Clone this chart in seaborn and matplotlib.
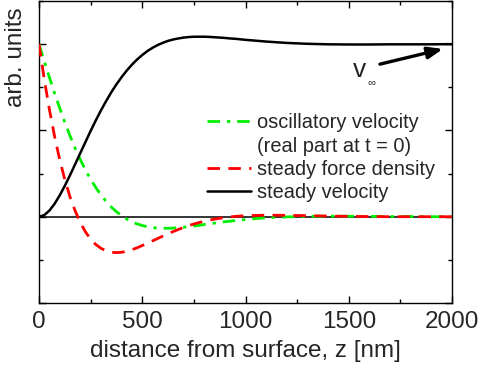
import matplotlib
matplotlib.use("Agg")
import matplotlib.pyplot as plt
import pandas as pd
import seaborn as sns
from matplotlib.ticker import MultipleLocator, NullFormatter

# distance from surface z [nm]
z_nm = [0, 25, 50, 75, 100, 125, 150, 175, 200, 225, 250, 275, 300, 325, 350, 375, 400,
        425, 450, 475, 500, 525, 550, 575, 600, 625, 650, 675, 700, 725, 750, 775, 800,
        825, 850, 875, 900, 925, 950, 975, 1000, 1100, 1200, 1300, 1400, 1500, 1600,
        1700, 1800, 1900, 2000]

steady_velocity = [0.000, 0.009, 0.035, 0.074, 0.123, 0.179, 0.240, 0.304, 0.369, 0.433,
                   0.497, 0.558, 0.616, 0.670, 0.721, 0.767, 0.809, 0.847, 0.881, 0.911,
                   0.937, 0.960, 0.979, 0.995, 1.008, 1.019, 1.027, 1.033, 1.038, 1.041,
                   1.043, 1.043, 1.043, 1.042, 1.040, 1.038, 1.036, 1.033, 1.031, 1.028,
                   1.025, 1.015, 1.007, 1.002, 0.999, 0.998, 0.998, 0.999, 0.999, 0.999,
                   1.000]

steady_force_density = [1.000, 0.801, 0.624, 0.468, 0.332, 0.215, 0.116, 0.034, -0.034,
                        -0.088, -0.130, -0.161, -0.183, -0.198, -0.206, -0.208, -0.206,
                        -0.200, -0.191, -0.180, -0.167, -0.154, -0.140, -0.126, -0.112,
                        -0.099, -0.086, -0.074, -0.062, -0.052, -0.042, -0.034, -0.026,
                        -0.020, -0.014, -0.009, -0.005, -0.001, 0.002, 0.004, 0.006,
                        0.009, 0.008, 0.006, 0.004, 0.002, 0.001, 0.000, 0.000, 0.000,
                        0.000]

oscillatory_velocity = [1.000, 0.904, 0.809, 0.717, 0.630, 0.547, 0.469, 0.397, 0.331,
                        0.271, 0.217, 0.169, 0.126, 0.089, 0.056, 0.029, 0.006, -0.014,
                        -0.029, -0.042, -0.051, -0.058, -0.063, -0.066, -0.067, -0.067,
                        -0.066, -0.063, -0.061, -0.057, -0.054, -0.050, -0.045, -0.041,
                        -0.037, -0.033, -0.029, -0.026, -0.022, -0.019, -0.016, -0.006,
                        -0.001, 0.002, 0.003, 0.003, 0.002, 0.001, 0.001, 0.000, 0.000]

x_ticks = [0, 500, 1000, 1500, 2000]
x_tick_labels = ["0", "500", "1000", "1500", "2000"]

sns.set_style("ticks")
plt.rcParams["font.family"] = ["Liberation Sans", "DejaVu Sans"]

df = pd.DataFrame({"z": z_nm,
                   "osc": oscillatory_velocity,
                   "force": steady_force_density,
                   "vel": steady_velocity})

fig = plt.figure(figsize=(4.84, 3.75), dpi=100)
ax = fig.add_axes([39 / 484, 1 - 303 / 375, (452 - 39) / 484, (303 - 1) / 375])

ax.axhline(0, color="black", lw=1.1, zorder=1)

sns.lineplot(data=df, x="z", y="osc", ax=ax, color="#00ee00", lw=2.0,
             label="oscillatory velocity", zorder=3)
ax.lines[-1].set_dashes([4.5, 2.5, 1.2, 2.5])
sns.lineplot(data=df, x="z", y="force", ax=ax, color="#ff0000", lw=2.0,
             label="steady force density", zorder=3)
ax.lines[-1].set_dashes([4.5, 3.0])
sns.lineplot(data=df, x="z", y="vel", ax=ax, color="black", lw=1.8,
             label="steady velocity", zorder=4)

ax.set_xlim(0, 2000)
ax.set_ylim(-0.5, 1.25)
ax.set_xticks(x_ticks)
ax.set_xticklabels(x_tick_labels)
ax.xaxis.set_minor_locator(MultipleLocator(250))
ax.yaxis.set_major_locator(MultipleLocator(0.5))
ax.yaxis.set_minor_locator(MultipleLocator(0.25))
ax.yaxis.set_major_formatter(NullFormatter())
ax.tick_params(which="both", direction="in", top=True, right=True, color="black",
               width=1.0)
ax.tick_params(which="major", length=5, labelsize=17.5, pad=6)
ax.tick_params(which="minor", length=3)
for s in ax.spines.values():
    s.set_visible(True)
    s.set_color("black")
    s.set_linewidth(1.0)

ax.set_xlabel("distance from surface, z [nm]", fontsize=17.5, labelpad=5)
ax.set_ylabel("arb. units", fontsize=17.5)
ax.yaxis.set_label_coords(-0.03, 0.815)

# legend: add a blank entry for the second line of the first label
handles, labels = ax.get_legend_handles_labels()
blank, = ax.plot([], [], color="none")
handles = [handles[0], blank, handles[1], handles[2]]
labels = [labels[0], "(real part at t = 0)", labels[1], labels[2]]
ax.legend(handles, labels, loc="upper left", bbox_to_anchor=(0.388, 0.655),
          frameon=False, fontsize=14.4, handlelength=2.2, handletextpad=0.3,
          labelspacing=0.22, borderaxespad=0, borderpad=0.4)

# v_infinity annotation
ax.annotate("", xy=(1956, 0.972), xytext=(1651, 0.884),
            arrowprops=dict(arrowstyle="-|>,head_length=0.9,head_width=0.35",
                            color="black", lw=2.4, shrinkA=0, shrinkB=0))
ax.text(1522, 0.85, "v", fontsize=19, ha="left", va="center")
ax.text(1593, 0.78, "\u221e", fontsize=8, ha="left", va="center")

fig.savefig("out.png", dpi=100)
